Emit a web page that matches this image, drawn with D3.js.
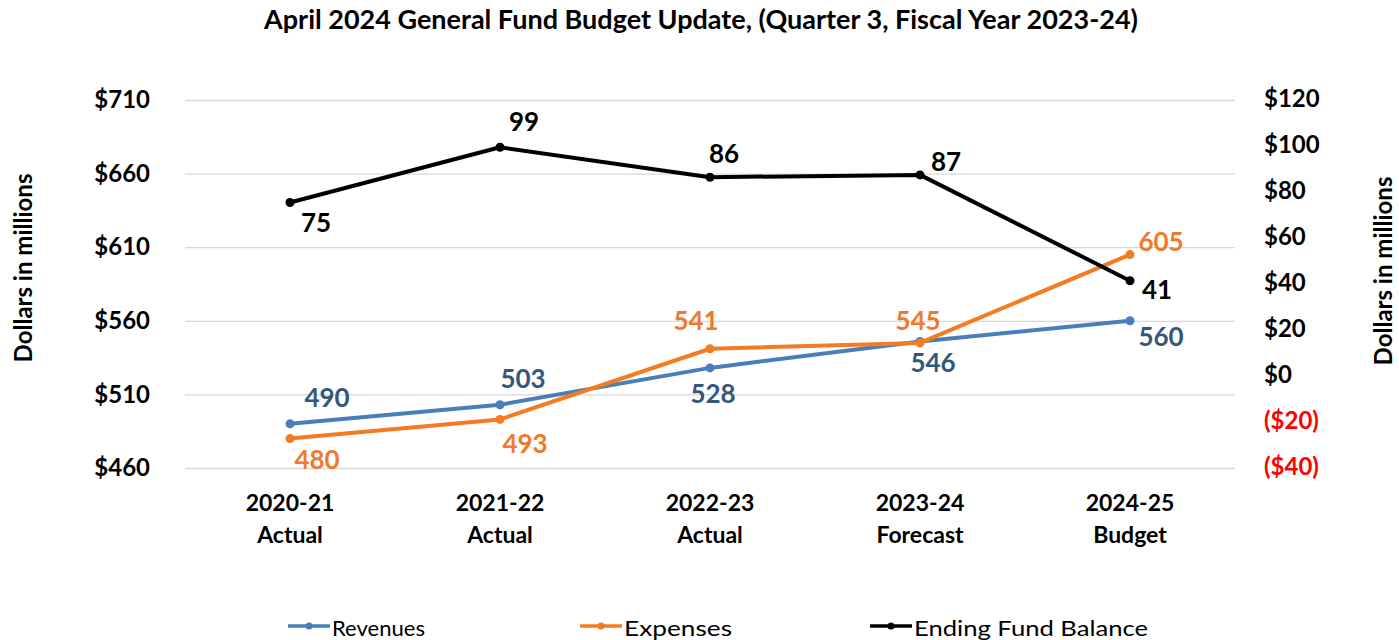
<!DOCTYPE html>
<html>
<head>
<meta charset="utf-8">
<script src="https://cdn.jsdelivr.net/npm/d3@7"></script>
<style>
  html, body { margin: 0; padding: 0; background: #fff; }
  svg { display: block; font-family: Lato, "Open Sans", "DejaVu Sans", sans-serif; }
</style>
</head>
<body>
<svg id="chart" width="1399" height="640"></svg>
<script>
// Fiscal years and their status
const years = ["2020-21", "2021-22", "2022-23", "2023-24", "2024-25"];
const yearStatus = ["Actual", "Actual", "Actual", "Forecast", "Budget"];

// General Fund, dollars in millions
const revenues = [490, 503, 528, 546, 560];
const expenses = [480, 493, 541, 545, 605];
const endingFundBalance = [75, 99, 86, 87, 41];

// Axis tick values
const leftTicks = [460, 510, 560, 610, 660, 710];
const rightTicks = [-40, -20, 0, 20, 40, 60, 80, 100, 120];

const seriesNames = ["Revenues", "Expenses", "Ending Fund Balance"];

const svg = d3.select("#chart");
const plot = { left: 185, right: 1235, top: 100, bottom: 468 };

const x = d3.scaleBand().domain(years).range([plot.left, plot.right]);
const xc = d => x(d) + x.bandwidth() / 2;
const yL = d3.scaleLinear().domain([460, 710]).range([plot.bottom, plot.top]);
const yR = d3.scaleLinear().domain([-40, 120]).range([plot.bottom - 1, plot.top - 1]);

const fmtDollar = v => v < 0 ? `($${Math.abs(v)})` : `$${v}`;

// Title, sized to span its full width
const title = svg.append("text")
  .attr("x", 701).attr("y", 29)
  .attr("text-anchor", "middle")
  .attr("font-weight", "bold").attr("font-size", 24)
  .attr("fill", "#000")
  .text("April 2024 General Fund Budget Update, (Quarter 3, Fiscal Year 2023-24)");
{
  const w = title.node().getComputedTextLength();
  const fs = Math.min(27, 24 * 878 / w);
  title.attr("font-size", fs);
}

// Horizontal gridlines from the left axis
svg.append("g")
  .attr("transform", `translate(${plot.left},0)`)
  .call(d3.axisLeft(yL).tickValues(leftTicks).tickSize(-(plot.right - plot.left)).tickFormat(""))
  .call(g => g.select(".domain").remove())
  .call(g => g.selectAll("line").attr("stroke", "#d9d9d9").attr("stroke-width", 1.3));

// Left axis labels
svg.append("g")
  .attr("transform", `translate(150,0)`)
  .call(d3.axisLeft(yL).tickValues(leftTicks).tickSize(0).tickPadding(0).tickFormat(fmtDollar))
  .call(g => g.select(".domain").remove())
  .call(g => g.selectAll("text")
    .attr("font-family", "Lato, sans-serif")
    .attr("font-size", 24).attr("font-weight", "bold").attr("fill", "#000"));

// Right axis labels
svg.append("g")
  .attr("transform", `translate(1264,0)`)
  .call(d3.axisRight(yR).tickValues(rightTicks).tickSize(0).tickPadding(0).tickFormat(fmtDollar))
  .call(g => g.select(".domain").remove())
  .call(g => g.selectAll("text")
    .attr("font-family", "Lato, sans-serif")
    .attr("font-size", 24).attr("font-weight", "bold")
    .attr("fill", d => d < 0 ? "#ff0000" : "#000"));

// Axis titles
svg.append("text")
  .attr("transform", "translate(32,268) rotate(-90)")
  .attr("text-anchor", "middle").attr("font-weight", "bold").attr("font-size", 24)
  .text("Dollars in millions");
svg.append("text")
  .attr("transform", "translate(1392,271) rotate(-90)")
  .attr("text-anchor", "middle").attr("font-weight", "bold").attr("font-size", 24)
  .text("Dollars in millions");

// Category labels
const xAxis = svg.append("g")
  .attr("transform", `translate(0,${plot.bottom})`)
  .call(d3.axisBottom(x).tickSize(0).tickPadding(0).tickFormat(""))
  .call(g => g.select(".domain").remove());
xAxis.selectAll(".tick").each(function (d, i) {
  const t = d3.select(this).append("text")
    .attr("text-anchor", "middle").attr("fill", "#000")
    .attr("font-family", "Lato, sans-serif")
    .attr("font-size", 23).attr("font-weight", "bold");
  t.append("tspan").attr("x", 0).attr("y", 43).text(d);
  t.append("tspan").attr("x", 0).attr("y", 75).text(yearStatus[i]);
});

// Series definitions; place = label offset from its point
const series = [
  { name: seriesNames[0], values: revenues, y: yL, color: "#4a7ebb", labelColor: "#34577c",
    place: [[37, -27], [23, -27], [3, 25], [13, 21], [31, 15]] },
  { name: seriesNames[1], values: expenses, y: yL, color: "#f47b20", labelColor: "#ee7a2e",
    place: [[27, 20], [25, 24], [-14, -29], [-2, -23], [31, -14]] },
  { name: seriesNames[2], values: endingFundBalance, y: yR, color: "#000", labelColor: "#000",
    place: [[26, 19], [24, -26], [14, -24], [26, -14], [27, 8]] }
];

const line = (s) => d3.line().x((d, i) => xc(years[i])).y(d => s.y(d));

series.forEach(s => {
  const g = svg.append("g");
  g.append("path")
    .datum(s.values)
    .attr("d", line(s))
    .attr("fill", "none").attr("stroke", s.color)
    .attr("stroke-width", 4).attr("stroke-linejoin", "round");
  g.selectAll("circle").data(s.values).join("circle")
    .attr("cx", (d, i) => xc(years[i])).attr("cy", d => s.y(d))
    .attr("r", 4.5).attr("fill", s.color);
  g.selectAll("text").data(s.values).join("text")
    .attr("x", (d, i) => xc(years[i]) + s.place[i][0])
    .attr("y", (d, i) => s.y(d) + s.place[i][1])
    .attr("text-anchor", "middle").attr("dominant-baseline", "central")
    .attr("font-size", 26).attr("font-weight", "bold")
    .attr("fill", s.labelColor)
    .text(d => d);
});

// Legend
const legendX = [288, 580, 870];
const legendTextWidth = [93, 108, 234];
const legend = svg.append("g");
series.forEach((s, i) => {
  const g = legend.append("g").attr("transform", `translate(${legendX[i]},626)`);
  g.append("line").attr("x1", 0).attr("x2", 42).attr("y1", 0).attr("y2", 0)
    .attr("stroke", s.color).attr("stroke-width", 3.5);
  g.append("circle").attr("cx", 21).attr("cy", 0).attr("r", 3.5).attr("fill", s.color);
  g.append("text").attr("x", 44).attr("y", 1)
    .attr("dominant-baseline", "central")
    .attr("font-family", "Lato, sans-serif")
    .attr("font-size", 21).attr("fill", "#000")
    .attr("textLength", legendTextWidth[i]).attr("lengthAdjust", "spacingAndGlyphs")
    .text(s.name);
});
</script>
</body>
</html>
